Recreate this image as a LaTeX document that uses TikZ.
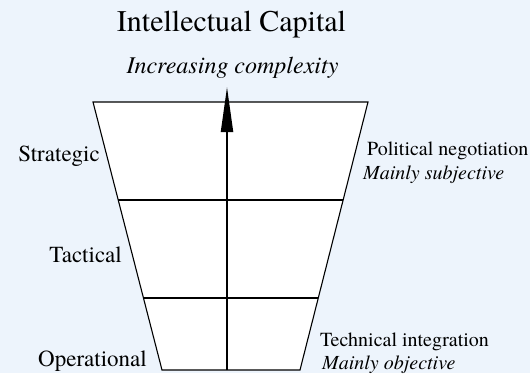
\documentclass[tikz,border=0pt]{standalone}
\usepackage{fontspec}
\setmainfont{texgyretermes}[Extension=.otf, UprightFont=*-regular, ItalicFont=*-italic, BoldFont=*-bold]
\newfontfamily\tnr{texgyretermes}[Extension=.otf, UprightFont=*-regular, ItalicFont=*-italic, BoldFont=*-bold]
\usetikzlibrary{arrows.meta}
\definecolor{bgblue}{HTML}{EDF4FC}
\tikzset{
  lbl/.style={inner sep=0pt, font=\tnr\fontsize{23}{26}\selectfont},
  rlbl/.style={inner sep=0pt, font=\tnr\fontsize{20}{23}\selectfont},
  rit/.style={inner sep=0pt, font=\tnr\fontsize{20}{23}\selectfont\itshape},
  trapline/.style={line width=1.1pt, draw=black},
  levelline/.style={line width=1.3pt, draw=black},
  axisline/.style={line width=2pt, draw=black, -{Triangle[length=45pt,width=12pt]}}
}
\begin{document}
\begin{tikzpicture}[x=1pt,y=-1pt]
\fill[bgblue] (0,0) rectangle (530,373);
\useasboundingbox (0,0) rectangle (530,373);
% trapezoid corners
\coordinate (tl) at (93,102);
\coordinate (tr) at (368,102);
\coordinate (br) at (300,370);
\coordinate (bl) at (162,370);
\coordinate (l1) at (118.2,200);
\coordinate (r1) at (343.1,200);
\coordinate (l2) at (143.5,298);
\coordinate (r2) at (318.3,298);
\path[fill=white, trapline] (tl) -- (tr) -- (br) -- (bl) -- cycle;
\draw[levelline] (l1) -- (r1);
\draw[levelline] (l2) -- (r2);
% axis
\coordinate (abot) at (227,370);
\coordinate (atop) at (227,87);
\draw[axisline] (abot) -- (atop);
% texts
\node[inner sep=0pt, anchor=base, font=\tnr\fontsize{30}{34}\selectfont] (title) at (231.5,31) {Intellectual Capital};
\node[inner sep=0pt, anchor=base, font=\tnr\fontsize{24}{27}\selectfont\itshape] (incr) at (232.5,73) {Increasing complexity};
\node[lbl, anchor=base east] (strat) at (100,161.5) {Strategic};
\node[lbl, anchor=base east] (tact) at (122,262.5) {Tactical};
\node[lbl, anchor=base east] (oper) at (147,366) {Operational};
\node[rlbl, anchor=base west] (pol) at (367,155.5) {Political negotiation};
\node[rit, anchor=base west] (subj) at (363,179.5) {Mainly subjective};
\node[rlbl, anchor=base west] (tech) at (320,346) {Technical integration};
\node[rit, anchor=base west] (obj) at (322,369) {Mainly objective};
\end{tikzpicture}
\end{document}
